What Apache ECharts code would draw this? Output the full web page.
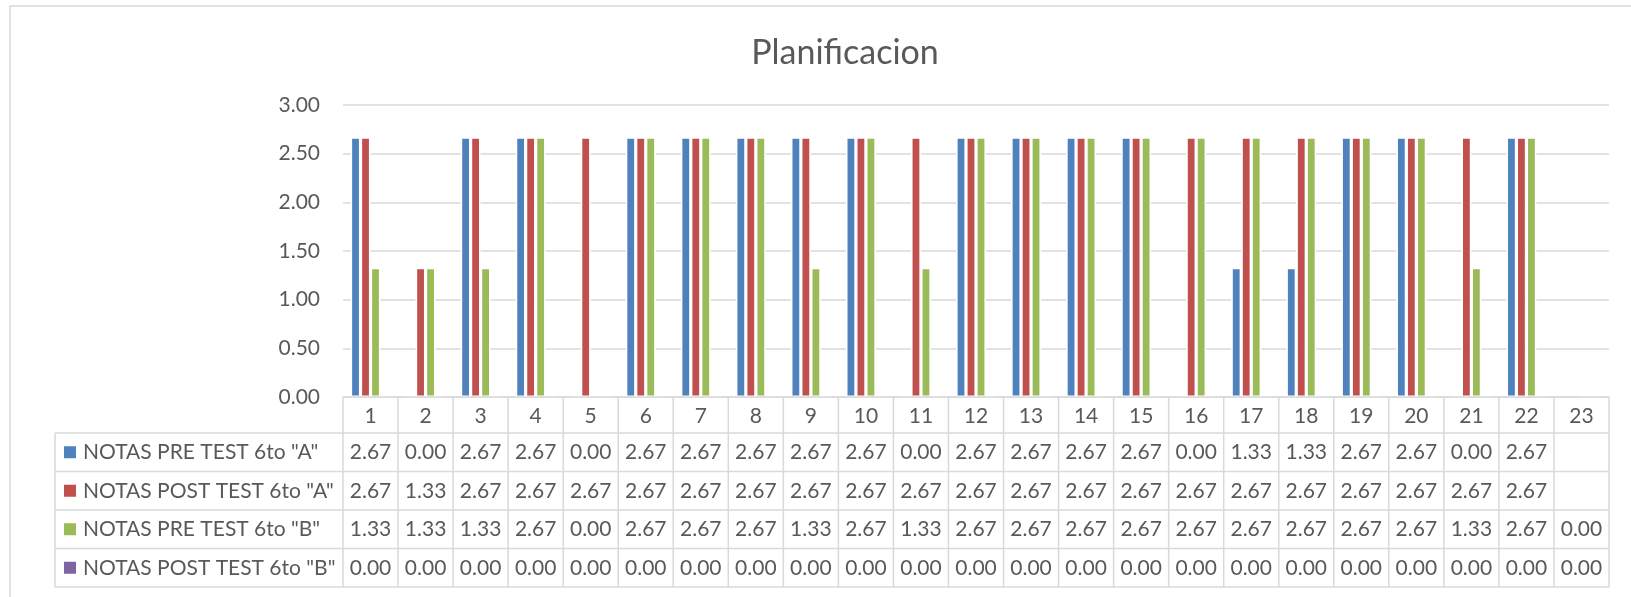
<!DOCTYPE html>
<html>
<head>
<meta charset="utf-8">
<title>Planificacion</title>
<script src="https://cdn.jsdelivr.net/npm/echarts@6/dist/echarts.min.js"></script>
<style>
    html, body { margin: 0; padding: 0; background: #fff; }
    #main { width: 1631px; height: 597px; }
</style>
</head>
<body>
<div id="main"></div>
<script>
// datos de la tabla (estudiantes 1..23)
const categories = ["1", "2", "3", "4", "5", "6", "7", "8", "9", "10", "11", "12",
    "13", "14", "15", "16", "17", "18", "19", "20", "21", "22", "23"];
const seriesNames = ['NOTAS PRE TEST 6to "A"', 'NOTAS POST TEST 6to "A"',
    'NOTAS PRE TEST 6to "B"', 'NOTAS POST TEST 6to "B"'];
const preTestA = [2.67, 0.00, 2.67, 2.67, 0.00, 2.67, 2.67, 2.67, 2.67, 2.67, 0.00, 2.67,
    2.67, 2.67, 2.67, 0.00, 1.33, 1.33, 2.67, 2.67, 0.00, 2.67, null];
const postTestA = [2.67, 1.33, 2.67, 2.67, 2.67, 2.67, 2.67, 2.67, 2.67, 2.67, 2.67, 2.67,
    2.67, 2.67, 2.67, 2.67, 2.67, 2.67, 2.67, 2.67, 2.67, 2.67, null];
const preTestB = [1.33, 1.33, 1.33, 2.67, 0.00, 2.67, 2.67, 2.67, 1.33, 2.67, 1.33, 2.67,
    2.67, 2.67, 2.67, 2.67, 2.67, 2.67, 2.67, 2.67, 1.33, 2.67, 0.00];
const postTestB = [0.00, 0.00, 0.00, 0.00, 0.00, 0.00, 0.00, 0.00, 0.00, 0.00, 0.00, 0.00,
    0.00, 0.00, 0.00, 0.00, 0.00, 0.00, 0.00, 0.00, 0.00, 0.00, 0.00];
const colors = ["#4F81BD", "#C0504D", "#9BBB59", "#8064A2"];

const allSeries = [preTestA, postTestA, preTestB, postTestB];
const textColor = "#595959";
const lineColor = "#D9D9D9";
const font = "Lato";

const chart = echarts.init(document.getElementById("main"), null, { renderer: "canvas" });

chart.setOption({
    animation: false,
    title: {
        text: "Planificacion",
        left: 840,
        top: 31,
        textAlign: "center",
        textStyle: { fontFamily: font, fontSize: 34, fontWeight: "normal", color: textColor }
    },
    grid: { left: 343, right: 22, top: 105, bottom: 200, containLabel: false },
    xAxis: {
        type: "category",
        data: categories,
        axisLine: { show: false },
        axisTick: { show: false },
        axisLabel: { margin: 9, fontFamily: font, fontSize: 21, color: textColor }
    },
    yAxis: {
        type: "value",
        min: 0,
        max: 3,
        interval: 0.5,
        axisLine: { show: false },
        axisTick: { show: false },
        splitLine: { lineStyle: { color: lineColor, width: 1.5 } },
        axisLabel: {
            margin: 23, fontFamily: font, fontSize: 21, color: textColor,
            formatter: v => v.toFixed(2)
        }
    },
    series: allSeries.map((d, i) => ({
        name: seriesNames[i],
        type: "bar",
        data: d,
        barWidth: 10,
        barGap: "0%",
        itemStyle: { color: colors[i], borderColor: "#fff", borderWidth: 1.6 }
    }))
});

// tabla de datos debajo del grafico
function drawTable() {
    const c0 = chart.convertToPixel({ xAxisIndex: 0 }, 0);
    const bw = chart.convertToPixel({ xAxisIndex: 0 }, 1) - c0;
    const left = c0 - bw / 2;
    const right = left + bw * categories.length;
    const top = chart.convertToPixel({ yAxisIndex: 0 }, 0);
    const headH = 36;
    const rowH = 38.5;
    const tableLeft = 55;
    const bottom = top + headH + rowH * allSeries.length;
    const ls = { stroke: lineColor, lineWidth: 1.5 };
    const els = [];

    // marco exterior del area del grafico
    els.push({ type: "rect", shape: { x: 10, y: 6, width: 1700, height: 700 },
        style: { fill: null, stroke: lineColor, lineWidth: 1.5 }, silent: true });

    // lineas horizontales
    els.push({ type: "line", shape: { x1: left, y1: top, x2: right, y2: top }, style: ls });
    for (let r = 0; r <= allSeries.length; r++) {
        const y = top + headH + rowH * r;
        els.push({ type: "line", shape: { x1: tableLeft, y1: y, x2: right, y2: y }, style: ls });
    }
    // lineas verticales
    els.push({ type: "line", shape: { x1: tableLeft, y1: top + headH, x2: tableLeft, y2: bottom }, style: ls });
    for (let k = 0; k <= categories.length; k++) {
        const x = left + bw * k;
        els.push({ type: "line", shape: { x1: x, y1: top, x2: x, y2: bottom }, style: ls });
    }

    allSeries.forEach((d, r) => {
        const cy = top + headH + rowH * r + rowH / 2;
        els.push({ type: "rect", shape: { x: 64, y: cy - 6, width: 12, height: 12 },
            style: { fill: colors[r] } });
        els.push({ type: "text", x: 83, y: cy,
            style: { text: seriesNames[r], fontFamily: font, fontSize: 21, fill: textColor,
                verticalAlign: "middle", align: "left" } });
        d.forEach((v, k) => {
            if (v === null) return;
            els.push({ type: "text", x: left + bw * k + bw / 2, y: cy,
                style: { text: v.toFixed(2), fontFamily: font, fontSize: 21, fill: textColor,
                    verticalAlign: "middle", align: "center" } });
        });
    });

    chart.setOption({ graphic: { elements: els.map(e => Object.assign({ z: 100 }, e)) } });
}

drawTable();
</script>
</body>
</html>
